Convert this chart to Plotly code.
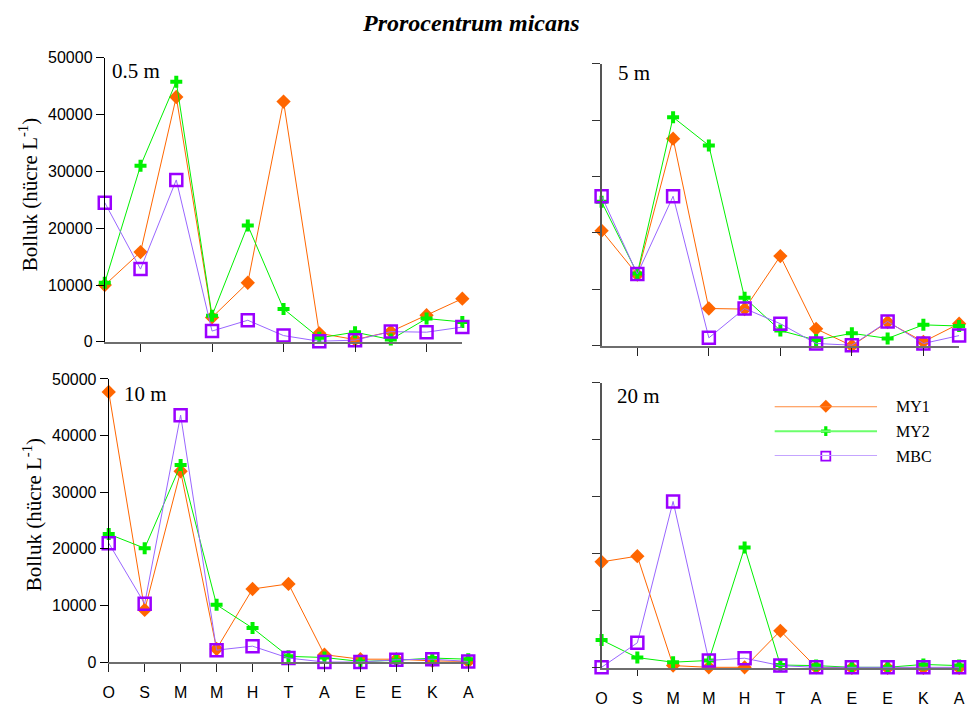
import plotly.graph_objects as go

W, H = 976, 713

# Sampling months (Oct -> Aug)
months = ["O", "S", "M", "M", "H", "T", "A", "E", "E", "K", "A"]
depths = ["0.5 m", "5 m", "10 m", "20 m"]
series_names = ["MY1", "MY2", "MBC"]

# Abundance (cells per litre) per station, one list per depth
my1_05 = [10000, 15800, 43100, 4300, 10400, 42300, 1500, 400, 1800, 4700, 7600]
my2_05 = [10400, 31000, 45800, 4600, 20500, 5800, 700, 1700, 400, 4100, 3500]
mbc_05 = [24500, 12800, 28500, 1900, 3800, 1100, 100, 300, 1800, 1700, 2600]

my1_5 = [20400, 12600, 36700, 6600, 6500, 15900, 3000, 0, 4200, 700, 3900]
my2_5 = [25500, 12800, 40500, 35500, 8500, 2700, 1000, 2200, 1300, 3700, 3500]
mbc_5 = [26500, 12700, 26500, 1400, 6600, 3900, 400, 100, 4300, 400, 1800]

my1_10 = [47700, 9200, 33700, 2300, 12900, 13800, 1300, 500, 500, 200, 100]
my2_10 = [22600, 20100, 34800, 10100, 6000, 1000, 800, 100, 300, 700, 500]
mbc_10 = [21000, 10300, 43600, 2100, 2800, 700, 0, 0, 400, 500, 100]

my1_20 = [18600, 19600, 400, 100, 100, 6500, 100, 0, 0, 0, 0]
my2_20 = [4900, 1800, 1000, 1300, 21100, 500, 400, 100, 100, 600, 400]
mbc_20 = [100, 4400, 29200, 1300, 1700, 400, 100, 100, 100, 100, 100]

panels = [
    (my1_05, my2_05, mbc_05),
    (my1_5, my2_5, mbc_5),
    (my1_10, my2_10, mbc_10),
    (my1_20, my2_20, mbc_20),
]

y_ticks = [0, 10000, 20000, 30000, 40000, 50000]

ORANGE = "#FF6600"
GREEN = "#00F000"
PURPLE_LINE = "#9966FF"
PURPLE_MK = "#9B00FF"

styles = [
    dict(line=dict(color=ORANGE, width=1),
         marker=dict(symbol="diamond", size=11, color=ORANGE)),
    dict(line=dict(color=GREEN, width=1),
         marker=dict(symbol="cross", size=10, color=GREEN)),
    dict(line=dict(color=PURPLE_LINE, width=1),
         marker=dict(symbol="square-open", size=12, color=PURPLE_MK,
                     line=dict(color=PURPLE_MK, width=2.5))),
]


def fx(p):
    return p / W


def fy(p):
    return 1 - p / H


# plot areas in pixels: (left, right, top, bottom)
boxes = [
    (100, 462, 51, 342),
    (603, 965, 57, 346),
    (104, 468, 380, 670),
    (603, 965, 384, 676),
]

fig = go.Figure()
x_idx = list(range(len(months)))

for i, data in enumerate(panels):
    xa = "x" if i == 0 else f"x{i + 1}"
    ya = "y" if i == 0 else f"y{i + 1}"
    for name, vals, st in zip(series_names, data, styles):
        fig.add_trace(go.Scatter(
            x=x_idx, y=vals, mode="lines+markers", name=name,
            xaxis=xa, yaxis=ya, showlegend=False, cliponaxis=False,
            line=st["line"], marker=st["marker"],
        ))

layout = dict(
    width=W, height=H,
    margin=dict(l=0, r=0, t=0, b=0),
    paper_bgcolor="white", plot_bgcolor="white",
    showlegend=False,
)

tick_font = dict(family="Liberation Sans, Arial, sans-serif", size=16, color="black")

for i, (l, r, t, b) in enumerate(boxes):
    left = i % 2 == 0
    bottom = i >= 2
    xkey = "xaxis" if i == 0 else f"xaxis{i + 1}"
    ykey = "yaxis" if i == 0 else f"yaxis{i + 1}"
    yanchor = "y" if i == 0 else f"y{i + 1}"
    xanchor = "x" if i == 0 else f"x{i + 1}"
    xa = dict(
        domain=[fx(l), fx(r)], range=[0, 10], anchor=yanchor,
        showgrid=False, zeroline=False, showline=True,
        linecolor="#6E6E6E", linewidth=2,
        ticks="outside", ticklen=8, tickcolor="#222", tickwidth=1,
        tickfont=tick_font,
    )
    if not bottom:
        xa.update(tickvals=[1, 3, 5, 7, 9], showticklabels=False)
    elif left:
        xa.update(tickvals=x_idx, ticktext=months, ticklabelstandoff=7)
    else:
        xa.update(tickvals=x_idx, ticktext=months, ticklen=0,
                  ticklabelstandoff=15,
                  minor=dict(tickvals=[1], ticks="outside", ticklen=6,
                             tickcolor="#222", tickwidth=1))
    ya = dict(
        domain=[fy(b), fy(t)], range=[0, 50000], anchor=xanchor,
        showgrid=False, zeroline=False, showline=True,
        ticks="outside", ticklen=8, tickvals=y_ticks,
        tickfont=tick_font,
    )
    if left:
        ya.update(linecolor="black", linewidth=1, tickcolor="black",
                  ticktext=[str(v) for v in y_ticks], tickwidth=1)
    else:
        ya.update(linecolor="#555555", linewidth=2, tickcolor="#333333",
                  showticklabels=False, tickwidth=1)
    layout[xkey] = xa
    layout[ykey] = ya

# Legend drawn on its own hidden axes
leg_rows = [2, 1, 0]
layout["xaxis5"] = dict(domain=[fx(778), fx(882)], range=[0, 1], anchor="y5",
                        visible=False)
layout["yaxis5"] = dict(domain=[fy(459), fy(408)], range=[0, 2], anchor="x5",
                        visible=False)
leg_line_colors = ["#FF8A3C", "#6CFF6C", "#C4A4FF"]
leg_markers = [
    dict(symbol="diamond", size=10, color=ORANGE),
    dict(symbol="cross", size=8, color=GREEN),
    dict(symbol="square-open", size=9, color=PURPLE_MK,
         line=dict(color=PURPLE_MK, width=1.8)),
]
shapes = []
annotations = []
for name, row, lc, mk in zip(series_names, leg_rows, leg_line_colors, leg_markers):
    shapes.append(dict(type="line", xref="x5", yref="y5", x0=0, x1=1,
                       y0=row, y1=row, line=dict(color=lc, width=2)))
    fig.add_trace(go.Scatter(x=[0.5], y=[row], mode="markers", marker=mk,
                             xaxis="x5", yaxis="y5", showlegend=False,
                             cliponaxis=False, hoverinfo="skip"))
    annotations.append(dict(xref="x5", yref="y5", x=1, y=row, xshift=17,
                            text=name, showarrow=False, xanchor="left",
                            yanchor="middle",
                            font=dict(family="Liberation Serif, serif",
                                      size=16, color="black")))

serif = "Liberation Serif, Times New Roman, serif"

# Depth labels
for txt, (x, y) in zip(depths, [(105, 65), (618, 67), (117, 395), (617, 397)]):
    annotations.append(dict(xref="paper", yref="paper", x=fx(x), y=fy(y),
                            text=txt, showarrow=False, xanchor="left",
                            yanchor="middle",
                            font=dict(family=serif, size=21, color="black")))

# Y axis titles
for (x, y) in [(23, 191), (27, 519)]:
    annotations.append(dict(xref="paper", yref="paper", x=fx(x), y=fy(y),
                            text="Bolluk (hücre L<sup>-1</sup>)",
                            showarrow=False, textangle=-90,
                            xanchor="center", yanchor="middle",
                            font=dict(family=serif, size=21, color="black")))

# Figure title
annotations.append(dict(xref="paper", yref="paper", x=fx(471), y=fy(15),
                        text="<b><i>Prorocentrum micans</i></b>",
                        showarrow=False, xanchor="center", yanchor="middle",
                        font=dict(family=serif, size=24, color="black")))

layout["shapes"] = shapes
layout["annotations"] = annotations
fig.update_layout(**layout)

fig.write_html("out.html")
